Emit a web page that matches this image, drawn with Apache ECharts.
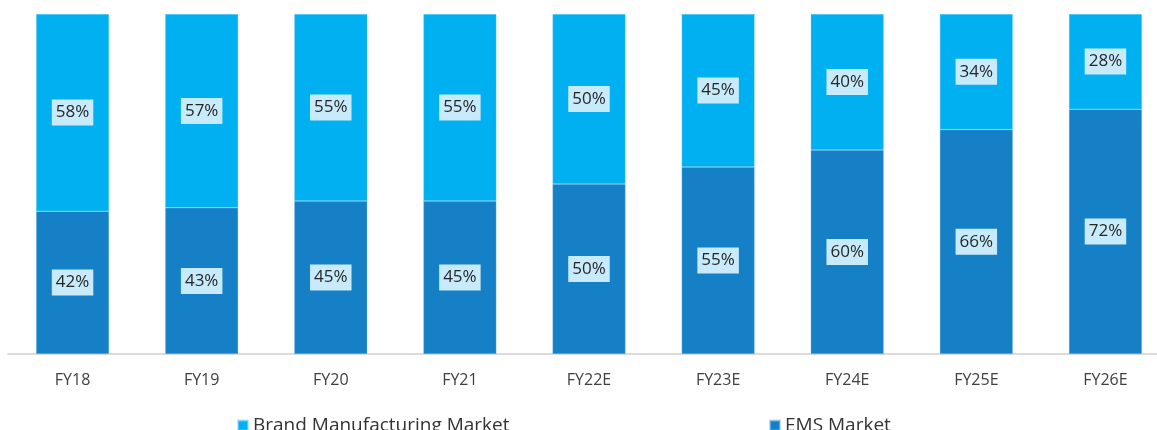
<!DOCTYPE html>
<html>
<head>
<meta charset="utf-8">
<script src="https://cdn.jsdelivr.net/npm/echarts@6/dist/echarts.min.js"></script>
<style>
  html, body { margin: 0; padding: 0; background: #fff; overflow: hidden; }
  /* canvas is a little wider than the window; the right edge of the plot runs off-screen */
  #chart { width: 1170px; height: 430px; }
</style>
</head>
<body>
<div id="chart"></div>
<script>
// Share of market by year (percent)
const categories = ['FY18', 'FY19', 'FY20', 'FY21', 'FY22E', 'FY23E', 'FY24E', 'FY25E', 'FY26E'];
const emsMarket = [42, 43, 45, 45, 50, 55, 60, 66, 72];
const brandMarket = [58, 57, 55, 55, 50, 45, 40, 34, 28];

const seriesNames = ['EMS Market', 'Brand Manufacturing Market'];
const colors = { ems: '#1580c6', brand: '#00b0f0' };

const font = "'Open Sans', 'Noto Sans', sans-serif";

const labelStyle = {
  show: true,
  position: 'inside',
  formatter: p => p.value + '%',
  color: '#262626',
  fontSize: 17,
  fontFamily: font,
  backgroundColor: '#c8ebfb',
  padding: [5, 4, 4, 4]
};

const chart = echarts.init(document.getElementById('chart'), null, { renderer: 'canvas' });

chart.setOption({
  animation: false,
  grid: { left: 8, right: 0, top: 14, bottom: 76, containLabel: false },
  legend: [
    {
      data: [seriesNames[1]],
      left: 232, top: 411,
      itemWidth: 10, itemHeight: 10, icon: 'rect',
      textStyle: { fontSize: 19, color: '#333', fontFamily: font }
    },
    {
      data: [seriesNames[0]],
      left: 764, top: 411,
      itemWidth: 10, itemHeight: 10, icon: 'rect',
      textStyle: { fontSize: 19, color: '#333', fontFamily: font }
    }
  ],
  xAxis: {
    type: 'category',
    data: categories,
    axisLine: { lineStyle: { color: '#d0d0d0', width: 1.5 } },
    axisTick: { show: false },
    axisLabel: { color: '#404040', fontSize: 16, fontFamily: font, margin: 18 }
  },
  yAxis: {
    type: 'value',
    min: 0, max: 100,
    show: false
  },
  series: [
    {
      name: seriesNames[0],
      type: 'bar',
      stack: 'share',
      data: emsMarket,
      barWidth: 73,
      itemStyle: { color: colors.ems, borderColor: 'rgba(140,200,240,0.6)', borderWidth: 0.5 },
      label: labelStyle
    },
    {
      name: seriesNames[1],
      type: 'bar',
      stack: 'share',
      data: brandMarket,
      barWidth: 73,
      itemStyle: { color: colors.brand, borderColor: 'rgba(140,215,250,0.6)', borderWidth: 0.5 },
      label: labelStyle
    }
  ]
});
</script>
</body>
</html>
